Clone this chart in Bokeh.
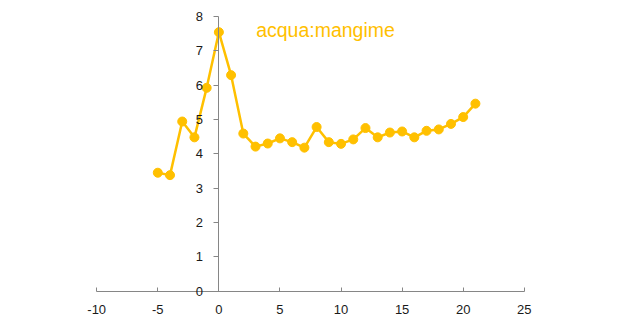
from bokeh.plotting import figure
from bokeh.models import LinearAxis, FixedTicker, Range1d, Label, ColumnDataSource, PrintfTickFormatter
from bokeh.embed import file_html
from bokeh.resources import INLINE

# Data
days = [-5, -4, -3, -2, -1, 0, 1, 2, 3, 4, 5, 6, 7, 8, 9, 10, 11, 12, 13, 14, 15, 16, 17, 18, 19, 20, 21]
ratio = [3.45, 3.38, 4.94, 4.48, 5.92, 7.54, 6.29, 4.59, 4.21, 4.30, 4.45, 4.34, 4.18, 4.78, 4.34, 4.29,
         4.42, 4.75, 4.48, 4.62, 4.65, 4.48, 4.67, 4.71, 4.87, 5.07, 5.46]
x_ticks = [-10, -5, 0, 5, 10, 15, 20, 25]
y_ticks = [0, 1, 2, 3, 4, 5, 6, 7, 8]
title_text = "acqua:mangime"

COLOR = "#FFC000"
AXIS = "#868686"

src = ColumnDataSource(dict(x=days, y=ratio))

p = figure(width=620, height=329, output_backend="svg", toolbar_location=None,
           x_range=Range1d(-11, 26), y_range=Range1d(-0.85, 8.2),
           x_axis_location=None, y_axis_location=None,
           min_border_left=84, min_border_right=84, min_border_top=9, min_border_bottom=9)
p.outline_line_color = None
p.xgrid.visible = False
p.ygrid.visible = False
p.background_fill_color = "white"
p.border_fill_color = "white"

yax = LinearAxis(fixed_location=0, ticker=FixedTicker(ticks=y_ticks), bounds=(0, 8),
                 formatter=PrintfTickFormatter(format="%d"))
yax.axis_line_color = AXIS
yax.major_tick_line_color = AXIS
yax.major_tick_out = 5
yax.major_tick_in = 0
yax.minor_tick_line_color = None
yax.major_label_standoff = 11
yax.major_label_text_font = "Liberation Sans"
yax.major_label_text_font_size = "13px"
yax.major_label_text_color = "#1a1a1a"
p.add_layout(yax, "left")

xax = LinearAxis(fixed_location=0, ticker=FixedTicker(ticks=x_ticks), bounds=(-10, 25),
                 formatter=PrintfTickFormatter(format="%d"))
xax.axis_line_color = AXIS
xax.major_tick_line_color = AXIS
xax.major_tick_out = 0
xax.major_tick_in = 4
xax.minor_tick_line_color = None
xax.major_label_standoff = 14
xax.major_label_text_font = "Liberation Sans"
xax.major_label_text_font_size = "13px"
xax.major_label_text_color = "#1a1a1a"
p.add_layout(xax, "below")

p.line("x", "y", source=src, line_color=COLOR, line_width=2.5)
p.scatter("x", "y", source=src, size=9, fill_color=COLOR, line_color=COLOR)

lbl = Label(x=3.05, y=7.59, text=title_text, text_color=COLOR,
            text_font="Liberation Sans", text_font_size="19.5px",
            text_baseline="alphabetic", text_align="left")
p.add_layout(lbl)

open("out.html", "w").write(file_html(p, INLINE))
